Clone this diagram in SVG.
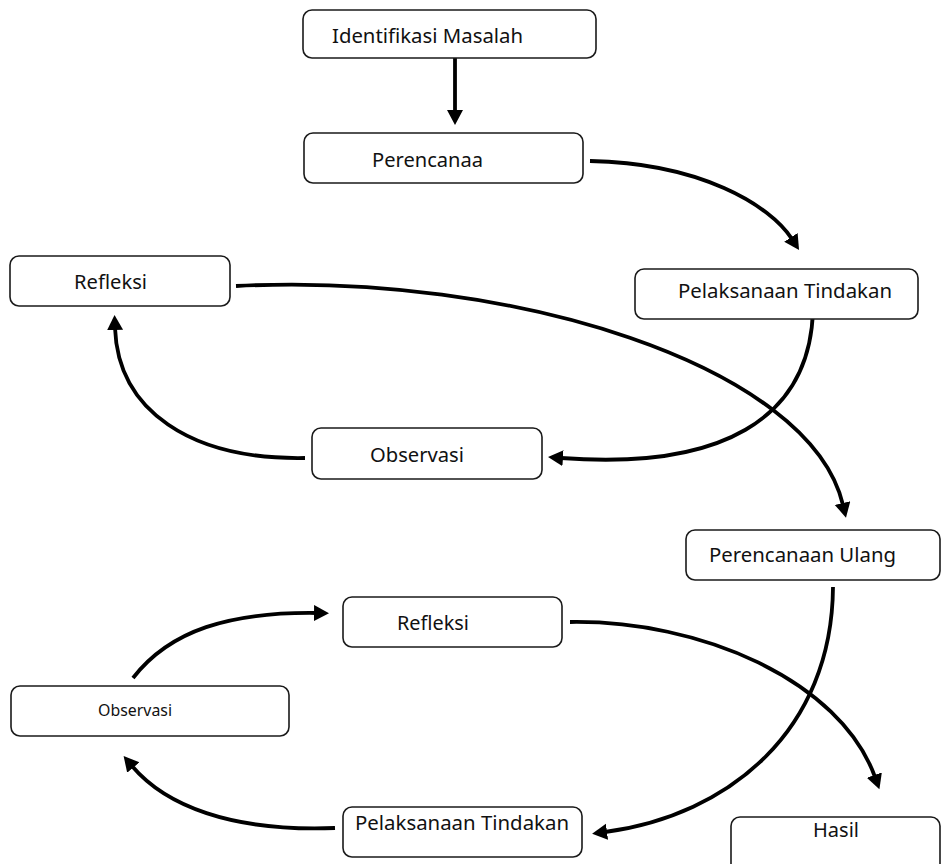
<svg xmlns="http://www.w3.org/2000/svg" width="944" height="864" viewBox="0 0 944 864">
<style>
.box{fill:#fff;stroke:#1a1a1a;stroke-width:1.6}
.lbl{font-family:"Noto Sans","Open Sans",sans-serif;font-size:20.5px;fill:#111}
.sm{font-size:16.5px}
.con{fill:none;stroke:#000;stroke-width:3.8}
</style>
<defs>
<marker id="ah" markerUnits="userSpaceOnUse" markerWidth="18" markerHeight="18" refX="2" refY="8" orient="auto">
<path d="M0,0 L15,8 L0,16 z" fill="#000"/>
</marker>
</defs>
<rect width="944" height="864" fill="#fff"/>
<g id="connectors">
<path class="con" d="M455,58 L455,112" marker-end="url(#ah)"/>
<path class="con" d="M590,161 C700,163 770,205 792,239" marker-end="url(#ah)"/>
<path class="con" d="M813,310 C810,420 720,470 561,458" marker-end="url(#ah)"/>
<path class="con" d="M305,458 C190,460 118,410 115,328" marker-end="url(#ah)"/>
<path class="con" d="M236,286 C510,272 810,365 843,505" marker-end="url(#ah)"/>
<path class="con" d="M833,587 C832,730 730,815 605,832" marker-end="url(#ah)"/>
<path class="con" d="M570,622 C700,620 840,680 875,777" marker-end="url(#ah)"/>
<path class="con" d="M133,678 C170,630 230,612 316,613" marker-end="url(#ah)"/>
<path class="con" d="M335,828 C230,832 165,805 132,766" marker-end="url(#ah)"/>
</g>
<g id="n-identifikasi"><rect class="box" x="303" y="10" width="293" height="48" rx="9"/><text class="lbl" x="332" y="43" textLength="191" lengthAdjust="spacingAndGlyphs">Identifikasi Masalah</text></g>
<g id="n-perencanaa"><rect class="box" x="304" y="133" width="279" height="50" rx="9"/><text class="lbl" x="372" y="167" textLength="111" lengthAdjust="spacingAndGlyphs">Perencanaa</text></g>
<g id="n-pelaksanaan1"><rect class="box" x="635" y="269" width="283" height="50" rx="9"/><text class="lbl" x="678" y="298" textLength="214" lengthAdjust="spacingAndGlyphs">Pelaksanaan Tindakan</text></g>
<g id="n-refleksi1"><rect class="box" x="10" y="256" width="220" height="50" rx="9"/><text class="lbl" x="74" y="289" textLength="73" lengthAdjust="spacingAndGlyphs">Refleksi</text></g>
<g id="n-observasi1"><rect class="box" x="312" y="428" width="230" height="51" rx="9"/><text class="lbl" x="370" y="462" textLength="94" lengthAdjust="spacingAndGlyphs">Observasi</text></g>
<g id="n-perencanaan-ulang"><rect class="box" x="686" y="530" width="254" height="50" rx="9"/><text class="lbl" x="709" y="562" textLength="187" lengthAdjust="spacingAndGlyphs">Perencanaan Ulang</text></g>
<g id="n-refleksi2"><rect class="box" x="343" y="597" width="219" height="50" rx="9"/><text class="lbl" x="397" y="630" textLength="72" lengthAdjust="spacingAndGlyphs">Refleksi</text></g>
<g id="n-observasi2"><rect class="box" x="11" y="686" width="278" height="50" rx="9"/><text class="lbl sm" x="98" y="716" textLength="74" lengthAdjust="spacingAndGlyphs">Observasi</text></g>
<g id="n-pelaksanaan2"><rect class="box" x="343" y="807" width="239" height="50" rx="9"/><text class="lbl" x="355" y="830" textLength="214" lengthAdjust="spacingAndGlyphs">Pelaksanaan Tindakan</text></g>
<g id="n-hasil"><rect class="box" x="731" y="817" width="209" height="60" rx="9"/><text class="lbl" x="836" y="837" text-anchor="middle" textLength="46" lengthAdjust="spacingAndGlyphs">Hasil</text></g>
</svg>
